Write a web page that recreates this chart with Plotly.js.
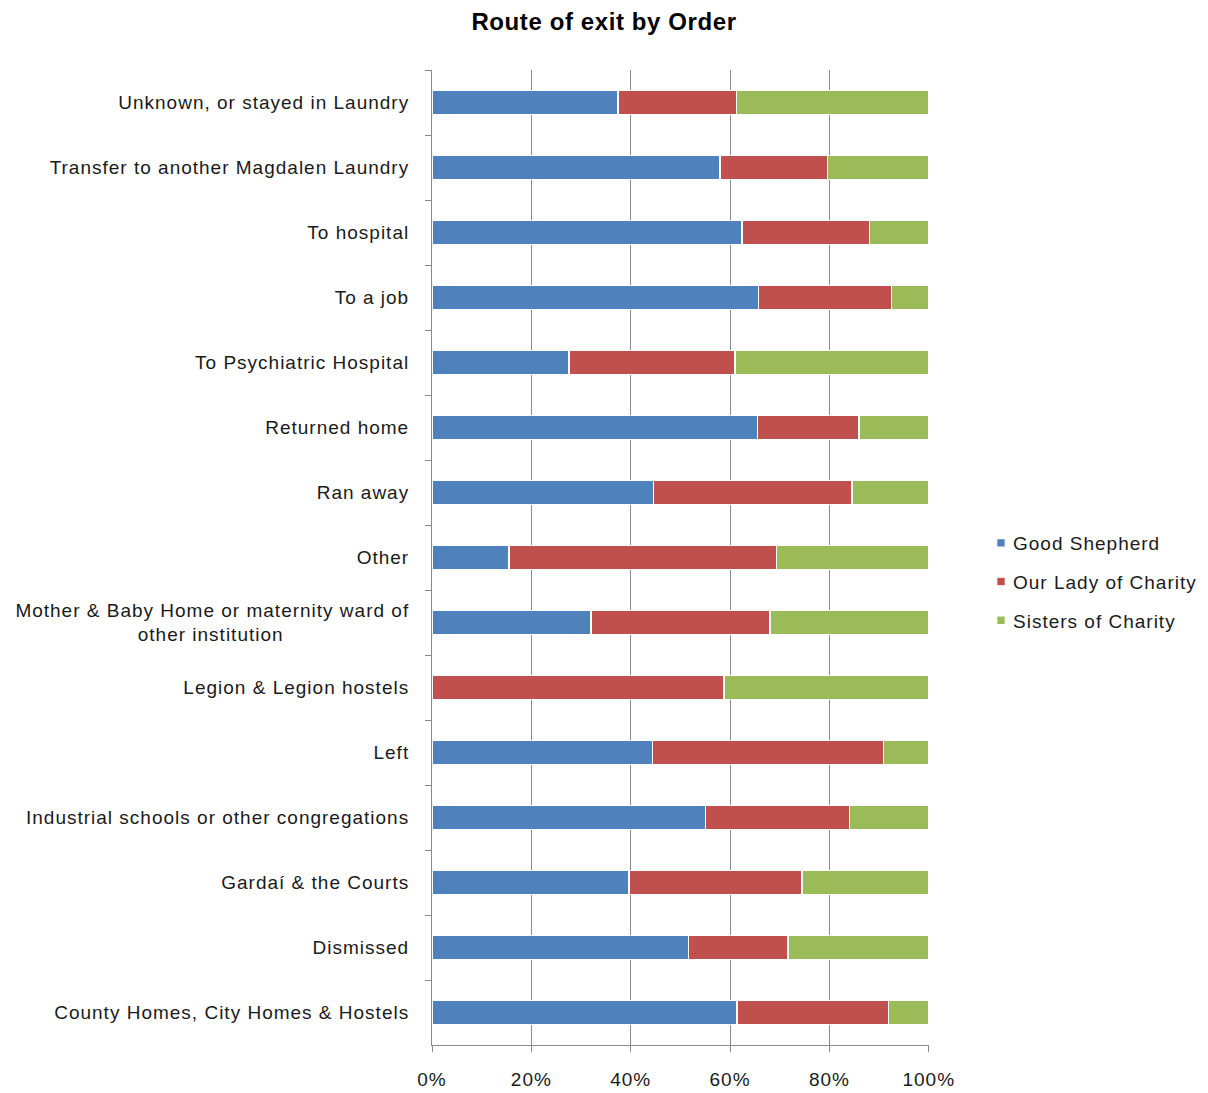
<!DOCTYPE html>
<html>
<head>
<meta charset="utf-8">
<script src="https://cdn.plot.ly/plotly-3.0.1.min.js"></script>
<style>
html,body{margin:0;padding:0;background:#fff;}
#chart{width:1208px;height:1093px;}
#chart .ytick text, #chart .xtick text, #chart .legendtext { letter-spacing: 1px; }
#chart .gtitle { letter-spacing: 0.6px; }
#chart .legend .scrollbox, #chart .legend g { clip-path: none !important; }
#chart .legend .legendpoints path { transform: translate(28px, 0px) scale(0.7); }
</style>
</head>
<body>
<div id="chart"></div>
<script>
const categories = [
  "Unknown, or stayed in Laundry",
  "Transfer to another Magdalen Laundry",
  "To hospital",
  "To a job",
  "To Psychiatric Hospital",
  "Returned home",
  "Ran away",
  "Other",
  "Mother & Baby Home or maternity ward of<br>other institution\u00a0\u00a0\u00a0\u00a0\u00a0\u00a0\u00a0\u00a0\u00a0\u00a0\u00a0\u00a0\u00a0\u00a0\u00a0\u00a0\u00a0\u00a0\u00a0\u00a0",
  "Legion & Legion hostels",
  "Left",
  "Industrial schools or other congregations",
  "Gardaí & the Courts",
  "Dismissed",
  "County Homes, City Homes & Hostels"
];
const goodShepherd   = [37.4, 58.0, 62.4, 65.7, 27.6, 65.5, 44.6, 15.5, 32.0, 0.0, 44.4, 55.1, 39.7, 51.6, 61.4];
const ourLadyCharity = [23.9, 21.6, 25.7, 26.8, 33.4, 20.5, 39.9, 53.8, 36.0, 58.8, 46.5, 28.9, 34.8, 20.1, 30.5];
const sistersCharity = [38.7, 20.4, 11.9, 7.5, 39.0, 14.0, 15.5, 30.7, 32.0, 41.2, 9.1, 16.0, 25.5, 28.3, 8.1];
const seriesNames = ["Good Shepherd", "Our Lady of Charity", "Sisters of Charity"];
const seriesColors = ["#4F81BD", "#C0504D", "#9BBB59"];
const xTickVals = [0, 20, 40, 60, 80, 100];

const seriesValues = [goodShepherd, ourLadyCharity, sistersCharity];
const traces = seriesValues.map((vals, i) => ({
  type: "bar",
  orientation: "h",
  name: seriesNames[i],
  legendgroup: "g" + i,
  y: categories,
  x: vals,
  marker: { color: seriesColors[i], line: { color: "#ffffff", width: 1.5 } },
  hoverinfo: "x+y+name"
}));

const font = "Liberation Sans, Arial, sans-serif";
const layout = {
  width: 1208,
  height: 1093,
  paper_bgcolor: "#ffffff",
  plot_bgcolor: "#ffffff",
  barmode: "stack",
  bargap: 0.63,
  margin: { l: 432, r: 279, t: 70, b: 48, pad: 0 },
  title: {
    text: "<b>Route of exit by Order</b>",
    font: { family: font, size: 24, color: "#000000" },
    x: 0.5, xref: "container", xanchor: "center",
    y: 1 - 22 / 1093, yref: "container", yanchor: "middle"
  },
  font: { family: font, size: 19, color: "#1a1a1a" },
  xaxis: {
    range: [0, 100.05],
    tickvals: xTickVals,
    ticktext: xTickVals.map(v => v + "%"),
    showgrid: true,
    gridcolor: "#8a8a8a",
    gridwidth: 1,
    showline: true,
    linecolor: "#8a8a8a",
    linewidth: 1,
    ticks: "outside",
    ticklen: 6,
    tickcolor: "#8a8a8a",
    ticklabelstandoff: 11,
    zeroline: false,
    tickfont: { family: font, size: 19, color: "#1a1a1a" }
  },
  yaxis: {
    type: "category",
    autorange: "reversed",
    showgrid: false,
    showline: true,
    linecolor: "#8a8a8a",
    linewidth: 1,
    ticks: "outside",
    tickson: "boundaries",
    ticklen: 6,
    tickcolor: "#8a8a8a",
    ticklabelstandoff: 18,
    tickfont: { family: font, size: 19, color: "#1a1a1a" }
  },
  legend: {
    x: 973 / 1208, xref: "container", xanchor: "left",
    y: 1 - 582 / 1093, yref: "container", yanchor: "middle",
    traceorder: "grouped",
    tracegroupgap: 11,
    font: { family: font, size: 19, color: "#1a1a1a" },
    itemwidth: 30,
    bgcolor: "rgba(0,0,0,0)"
  },
  showlegend: true
};

Plotly.newPlot("chart", traces, layout, { displayModeBar: false, staticPlot: true });
</script>
</body>
</html>
